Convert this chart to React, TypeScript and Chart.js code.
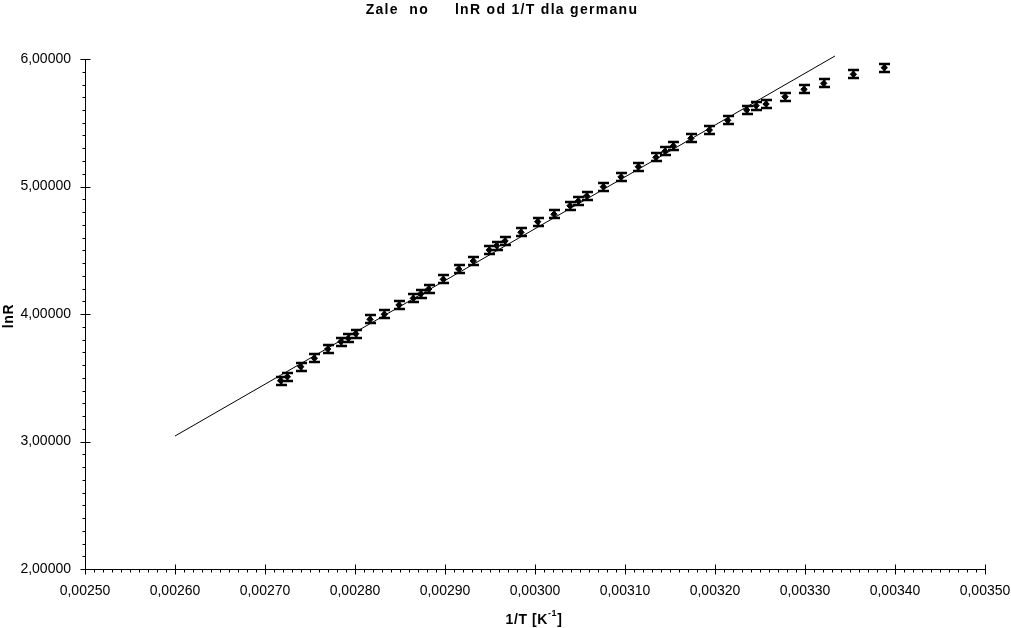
import React, { useEffect, useRef } from "react";
import { Chart, registerables } from "chart.js";

Chart.register(...registerables);

const TITLE = "Zale  no     lnR od 1/T dla germanu";
const X_LABEL_MAIN = "1/T [K";
const X_LABEL_SUP = "-1";
const X_LABEL_END = "]";
const Y_LABEL = "lnR";

const X_TICKS = [0.0025, 0.0026, 0.0027, 0.0028, 0.0029, 0.003, 0.0031, 0.0032, 0.0033, 0.0034, 0.0035];
const Y_TICKS = [2, 3, 4, 5, 6];

const INV_T = [
  0.0027174, 0.0027248, 0.0027397, 0.0027548, 0.0027697, 0.0027844, 0.0027926, 0.0028008,
  0.0028167, 0.0028326, 0.0028489, 0.0028648, 0.002873, 0.0028819, 0.0028981, 0.0029152,
  0.0029314, 0.0029492, 0.0029574, 0.0029667, 0.0029844, 0.003003, 0.0030211, 0.0030389,
  0.0030481, 0.0030574, 0.0030759, 0.0030956, 0.0031148, 0.0031344, 0.0031444, 0.0031537,
  0.0031733, 0.0031937, 0.0032141, 0.0032352, 0.0032456, 0.0032567, 0.0032778, 0.0032989,
  0.0033208, 0.0033537, 0.0033881,
];
const LN_R = [
  3.477, 3.508, 3.587, 3.653, 3.725, 3.783, 3.809, 3.845,
  3.958, 3.998, 4.071, 4.123, 4.157, 4.196, 4.272, 4.353,
  4.416, 4.502, 4.536, 4.573, 4.641, 4.724, 4.782, 4.849,
  4.886, 4.925, 4.998, 5.075, 5.155, 5.229, 5.276, 5.318,
  5.378, 5.443, 5.519, 5.6, 5.634, 5.647, 5.704, 5.762,
  5.809, 5.88, 5.932,
];
const LN_R_ERR = 0.04;

const FIT_X = [0.0026, 0.00333333];
const FIT_Y = [3.043, 6.0235];

const fmt = (v: number) => v.toFixed(5).replace(".", ",");

const FONT = '"Liberation Sans", Arial, Helvetica, sans-serif';

const decorPlugin = {
  id: "decor",
  afterDatasetsDraw(chart: any) {
    const ctx = chart.ctx as CanvasRenderingContext2D;
    const xs = chart.scales.x;
    const ys = chart.scales.y;
    const area = chart.chartArea;
    ctx.save();
    // error bars
    ctx.strokeStyle = "#000";
    for (let i = 0; i < INV_T.length; i++) {
      const px = Math.round(xs.getPixelForValue(INV_T[i])) + 0.5;
      const top = Math.round(ys.getPixelForValue(LN_R[i] + LN_R_ERR));
      const bot = Math.round(ys.getPixelForValue(LN_R[i] - LN_R_ERR));
      ctx.lineWidth = 2;
      ctx.beginPath();
      ctx.moveTo(px, top);
      ctx.lineTo(px, bot);
      ctx.stroke();
      ctx.lineWidth = 2.5;
      ctx.beginPath();
      ctx.moveTo(px - 5.5, top + 1);
      ctx.lineTo(px + 5.5, top + 1);
      ctx.moveTo(px - 5.5, bot - 1);
      ctx.lineTo(px + 5.5, bot - 1);
      ctx.stroke();
    }
    // ticks
    ctx.lineWidth = 1;
    ctx.beginPath();
    const ax = Math.round(area.left) + 0.5;
    const ay = Math.round(area.bottom) + 0.5;
    for (let k = 0; k < Y_TICKS.length; k++) {
      const y = Math.round(ys.getPixelForValue(Y_TICKS[k])) + 0.5;
      ctx.moveTo(ax - 5, y);
      ctx.lineTo(ax + 5, y);
      if (k < Y_TICKS.length - 1) {
        for (let m = 1; m < 10; m++) {
          const ym = Math.round(ys.getPixelForValue(Y_TICKS[k] + m * 0.1)) + 0.5;
          ctx.moveTo(ax - 3, ym);
          ctx.lineTo(ax, ym);
        }
      }
    }
    for (let k = 0; k < X_TICKS.length; k++) {
      const x = Math.round(xs.getPixelForValue(X_TICKS[k])) + 0.5;
      ctx.moveTo(x, ay - 5);
      ctx.lineTo(x, ay + 5);
      if (k < X_TICKS.length - 1) {
        for (let m = 1; m < 10; m++) {
          const xm = Math.round(xs.getPixelForValue(X_TICKS[k] + m * 0.00001)) + 0.5;
          ctx.moveTo(xm, ay);
          ctx.lineTo(xm, ay + 3);
        }
      }
    }
    ctx.stroke();

    // titles
    ctx.fillStyle = "#000";
    (ctx as any).letterSpacing = "1.3px";
    ctx.font = `bold 14px ${FONT}`;
    ctx.textAlign = "center";
    ctx.textBaseline = "alphabetic";
    ctx.fillText(TITLE, 502, 14);

    // x axis title with superscript
    (ctx as any).letterSpacing = "0.6px";
    ctx.font = `bold 14px ${FONT}`;
    const w1 = ctx.measureText(X_LABEL_MAIN).width;
    const w3 = ctx.measureText(X_LABEL_END).width;
    ctx.font = `bold 9px ${FONT}`;
    const w2 = ctx.measureText(X_LABEL_SUP).width;
    const total = w1 + w2 + w3;
    let sx = 534 - total / 2;
    ctx.textAlign = "left";
    ctx.font = `bold 14px ${FONT}`;
    ctx.fillText(X_LABEL_MAIN, sx, 624);
    sx += w1;
    ctx.font = `bold 9px ${FONT}`;
    ctx.fillText(X_LABEL_SUP, sx, 616);
    sx += w2;
    ctx.font = `bold 14px ${FONT}`;
    ctx.fillText(X_LABEL_END, sx, 624);

    // y axis title
    ctx.save();
    ctx.translate(13, 316);
    ctx.rotate(-Math.PI / 2);
    ctx.textAlign = "center";
    ctx.font = `bold 14px ${FONT}`;
    ctx.fillText(Y_LABEL, 0, 0);
    ctx.restore();

    ctx.restore();
  },
};

export default function App() {
  const ref = useRef<HTMLCanvasElement | null>(null);
  useEffect(() => {
    if (!ref.current) return;
    const chart = new Chart(ref.current, {
      type: "scatter",
      data: {
        datasets: [
          {
            type: "line",
            data: FIT_X.map((x, i) => ({ x, y: FIT_Y[i] })),
            borderColor: "#000",
            borderWidth: 1,
            pointRadius: 0,
            fill: false,
            clip: false,
          } as any,
          {
            type: "scatter",
            data: INV_T.map((x, i) => ({ x, y: LN_R[i] })),
            backgroundColor: "#000",
            borderColor: "#000",
            pointStyle: "rectRot",
            pointRadius: 3.2,
            borderWidth: 1,
          },
        ],
      },
      options: {
        responsive: false,
        animation: false,
        events: [],
        layout: { padding: { top: 59, right: 26, left: 0, bottom: 0 } },
        plugins: { legend: { display: false }, title: { display: false }, tooltip: { enabled: false } },
        scales: {
          x: {
            type: "linear",
            min: 0.0025,
            max: 0.0035,
            grid: { display: false },
            border: { display: true, color: "#000", width: 1 },
            afterBuildTicks: (s: any) => {
              s.ticks = X_TICKS.map((v) => ({ value: v }));
            },
            afterFit: (s: any) => {
              s.height = 59;
              s.paddingLeft = 0;
              s.paddingRight = 0;
            },
            ticks: {
              color: "#000",
              font: { family: FONT, size: 14 },
              padding: 6,
              maxRotation: 0,
              autoSkip: false,
              callback: (v: any) => fmt(Number(v)),
            },
          },
          y: {
            type: "linear",
            min: 2,
            max: 6,
            grid: { display: false },
            border: { display: true, color: "#000", width: 1 },
            afterBuildTicks: (s: any) => {
              s.ticks = Y_TICKS.map((v) => ({ value: v }));
            },
            afterFit: (s: any) => {
              s.width = 85;
              s.paddingTop = 0;
              s.paddingBottom = 0;
            },
            ticks: {
              color: "#000",
              font: { family: FONT, size: 14 },
              padding: 6,
              autoSkip: false,
              callback: (v: any) => fmt(Number(v)),
            },
          },
        },
      },
      plugins: [decorPlugin],
    } as any);
    return () => chart.destroy();
  }, []);
  return (
    <div style={{ position: "absolute", left: 0, top: 0, width: 1011, height: 628, background: "#fff" }}>
      <canvas ref={ref} width={1011} height={628} style={{ display: "block" }} />
    </div>
  );
}
